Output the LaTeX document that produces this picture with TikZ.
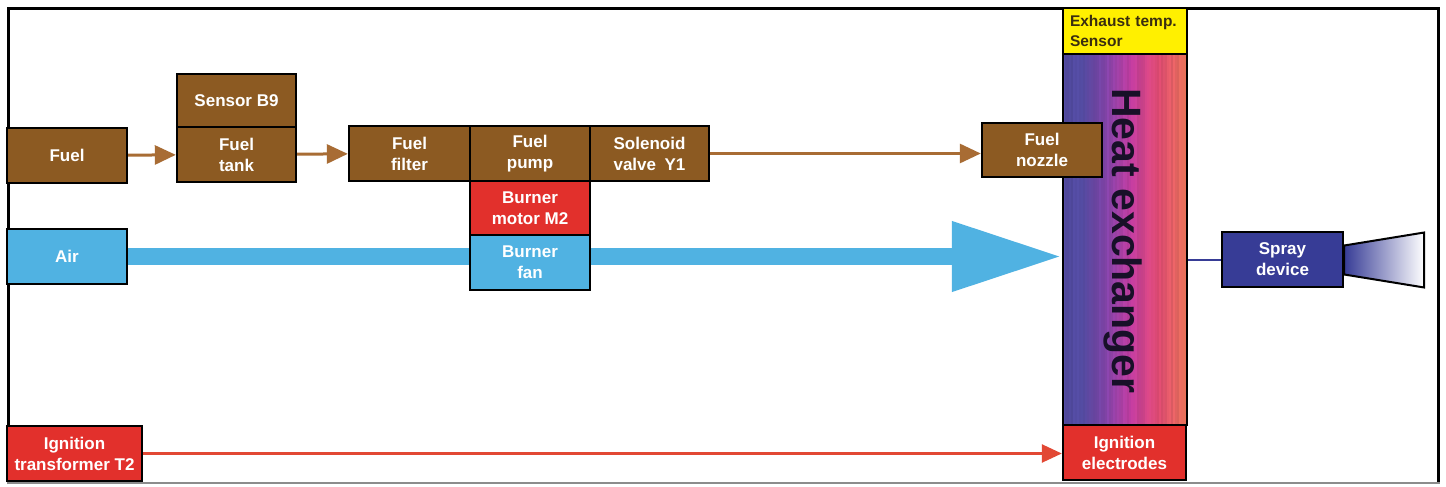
\documentclass[tikz,border=0pt]{standalone}
\usepackage{fontspec}
\setmainfont{Liberation Sans}
\usetikzlibrary{arrows.meta}
\pgfdeclarelayer{bg}
\pgfsetlayers{bg,main}
\definecolor{fuelbrown}{RGB}{140,90,34}
\definecolor{flowbrown}{RGB}{168,108,52}
\definecolor{burnred}{RGB}{226,48,44}
\definecolor{sparkred}{RGB}{226,72,52}
\definecolor{airblue}{RGB}{80,178,226}
\definecolor{sensyellow}{RGB}{255,240,0}
\definecolor{spraycol}{RGB}{55,60,150}
\definecolor{hxa}{RGB}{86,78,168}
\definecolor{hxb}{RGB}{140,72,180}
\definecolor{hxc}{RGB}{200,62,165}
\definecolor{hxd}{RGB}{236,80,120}
\definecolor{hxe}{RGB}{240,118,92}
\definecolor{hxtext}{RGB}{24,16,40}
\definecolor{exhtext}{RGB}{58,46,16}
% colour of a heat exchanger strip at relative position #1 (0 = left, 1 = right)
\newcommand\hxstripcolor[1]{%
  \ifdim#1pt<0.15pt \colorlet{hxs}{hxa}%
  \else\ifdim#1pt<0.35pt \pgfmathsetmacro\pp{100*(0.35-#1)/0.20}\colorlet{hxs}{hxa!\pp!hxb}%
  \else\ifdim#1pt<0.55pt \pgfmathsetmacro\pp{100*(0.55-#1)/0.20}\colorlet{hxs}{hxb!\pp!hxc}%
  \else\ifdim#1pt<0.78pt \pgfmathsetmacro\pp{100*(0.78-#1)/0.23}\colorlet{hxs}{hxc!\pp!hxd}%
  \else \pgfmathsetmacro\pp{100*(1-#1)/0.22}\colorlet{hxs}{hxd!\pp!hxe}%
  \fi\fi\fi\fi}
\begin{document}
\begin{tikzpicture}[x=1pt,y=-1pt,
  box/.style={draw=black, line width=2.4pt, inner sep=0pt,
    minimum width=120pt, minimum height=55pt, align=center, text=white,
    font=\fontsize{17}{21}\selectfont\bfseries},
  brownbox/.style={box, fill=fuelbrown},
  redbox/.style={box, fill=burnred},
  bluebox/.style={box, fill=airblue},
  fuelflow/.style={draw=flowbrown, line width=3pt,
    -{Triangle[length=21pt,width=19pt]}},
  sparkflow/.style={draw=sparkred, line width=2.5pt,
    -{Triangle[length=20pt,width=18pt]}}]
\useasboundingbox (0,0) rectangle (1446,487);

% outer frame
\draw[line width=3pt] (8.5,484) -- (8.5,8.5) -- (1438.5,8.5) -- (1438.5,483);
\draw[black!45, line width=1.2pt] (7,483) -- (1440,483);

% fuel line
\node[brownbox] (fuel) at (67,155.5) {Fuel};
\node[brownbox, minimum width=119pt, minimum height=53pt] (sensor) at (236.5,100.5) {Sensor B9};
\node[brownbox, minimum width=119pt] (tank) at (236.5,154.5) {Fuel\\tank};
\node[brownbox, minimum width=121pt] (filter) at (409.5,153.5) {Fuel\\filter};
\node[brownbox] (pump) at (530,153.5) {Fuel\\pump};
\node[brownbox, minimum width=119pt] (valve) at (649.5,153.5) {Solenoid\\valve\enspace Y1};
\node[redbox, minimum height=54pt] (motor) at (530,208) {Burner\\motor M2};
\node[bluebox] (fan) at (530,262.5) {Burner\\fan};
\node[bluebox] (air) at (67,256.5) {Air};

% heat exchanger column, filled with thin vertical strips running blue to red
\pgfmathsetseed{7}
\node[draw=black, line width=2.4pt, inner sep=0pt, minimum width=124pt,
  minimum height=372pt,
  path picture={
    \foreach \i in {0,...,61}{
      \pgfmathsetmacro\tt{\i/61}
      \hxstripcolor{\tt}
      \pgfmathsetmacro\qq{90+10*rnd}
      \pgfmathsetmacro\xa{2*\i}
      \fill[hxs!\qq!black]
        ([xshift=\xa pt]path picture bounding box.north west) rectangle
        ([xshift=\xa pt+2.4pt]path picture bounding box.south west);
    }}]
  (hx) at (1125,239) {};
\node[text=hxtext, font=\fontsize{41}{45}\selectfont\bfseries, rotate=-90,
  inner sep=0pt] (hxlabel) at ([xshift=-2pt,yshift=-2pt]hx.center) {Heat exchanger};
\node[draw=black, line width=2.4pt, inner sep=0pt, fill=sensyellow,
  minimum width=124pt, minimum height=46pt, text width=110pt, align=left,
  text=exhtext, font=\fontsize{15.5}{20}\selectfont\bfseries]
  (exh) at (1125,31) {Exhaust temp.\\Sensor};
\node[redbox, minimum width=123pt] (elec) at (1124.5,452.5) {Ignition\\electrodes};
\node[brownbox, minimum height=54pt] (nozzle) at (1042,150) {Fuel\\nozzle};

% spray device and its cone
\node[box, fill=spraycol, minimum width=121pt] (spray) at (1282.5,259.5) {Spray\\device};
\path (spray.east) ++(0,-14) coordinate (cn1) ++(80,-13) coordinate (cn2)
  ++(0,55) coordinate (cn3) ++(-80,-13) coordinate (cn4);
\shade[left color=spraycol, right color=white] (cn1) -- (cn2) -- (cn3) -- (cn4) -- cycle;
\draw[line width=2pt, line join=miter] (cn1) -- (cn2) -- (cn3) -- (cn4) -- cycle;
\draw[draw=spraycol, line width=2pt] (spray.west) -- (spray.west -| hx.east);

% ignition
\node[redbox, minimum width=135pt] (ign) at (74.5,453.5) {Ignition\\transformer T2};

% fuel flow arrows
\draw[fuelflow] (fuel) -- (tank);
\draw[fuelflow] (tank) -- (filter);
\draw[fuelflow] (valve.east) -- (valve.east -| nozzle.west);

% ignition cable
\draw[sparkflow] (ign.east) -- (ign.east -| elec.west);

% air stream, behind the fan box
\coordinate (airtip) at (air.east -| hx.west);
\begin{pgfonlayer}{bg}
  \fill[white] (0,0) rectangle (1446,487);
  \draw[airblue, line width=17pt, -{Triangle[length=110pt,width=66pt]}]
    (air.east) -- (airtip);
\end{pgfonlayer}
\end{tikzpicture}
\end{document}
